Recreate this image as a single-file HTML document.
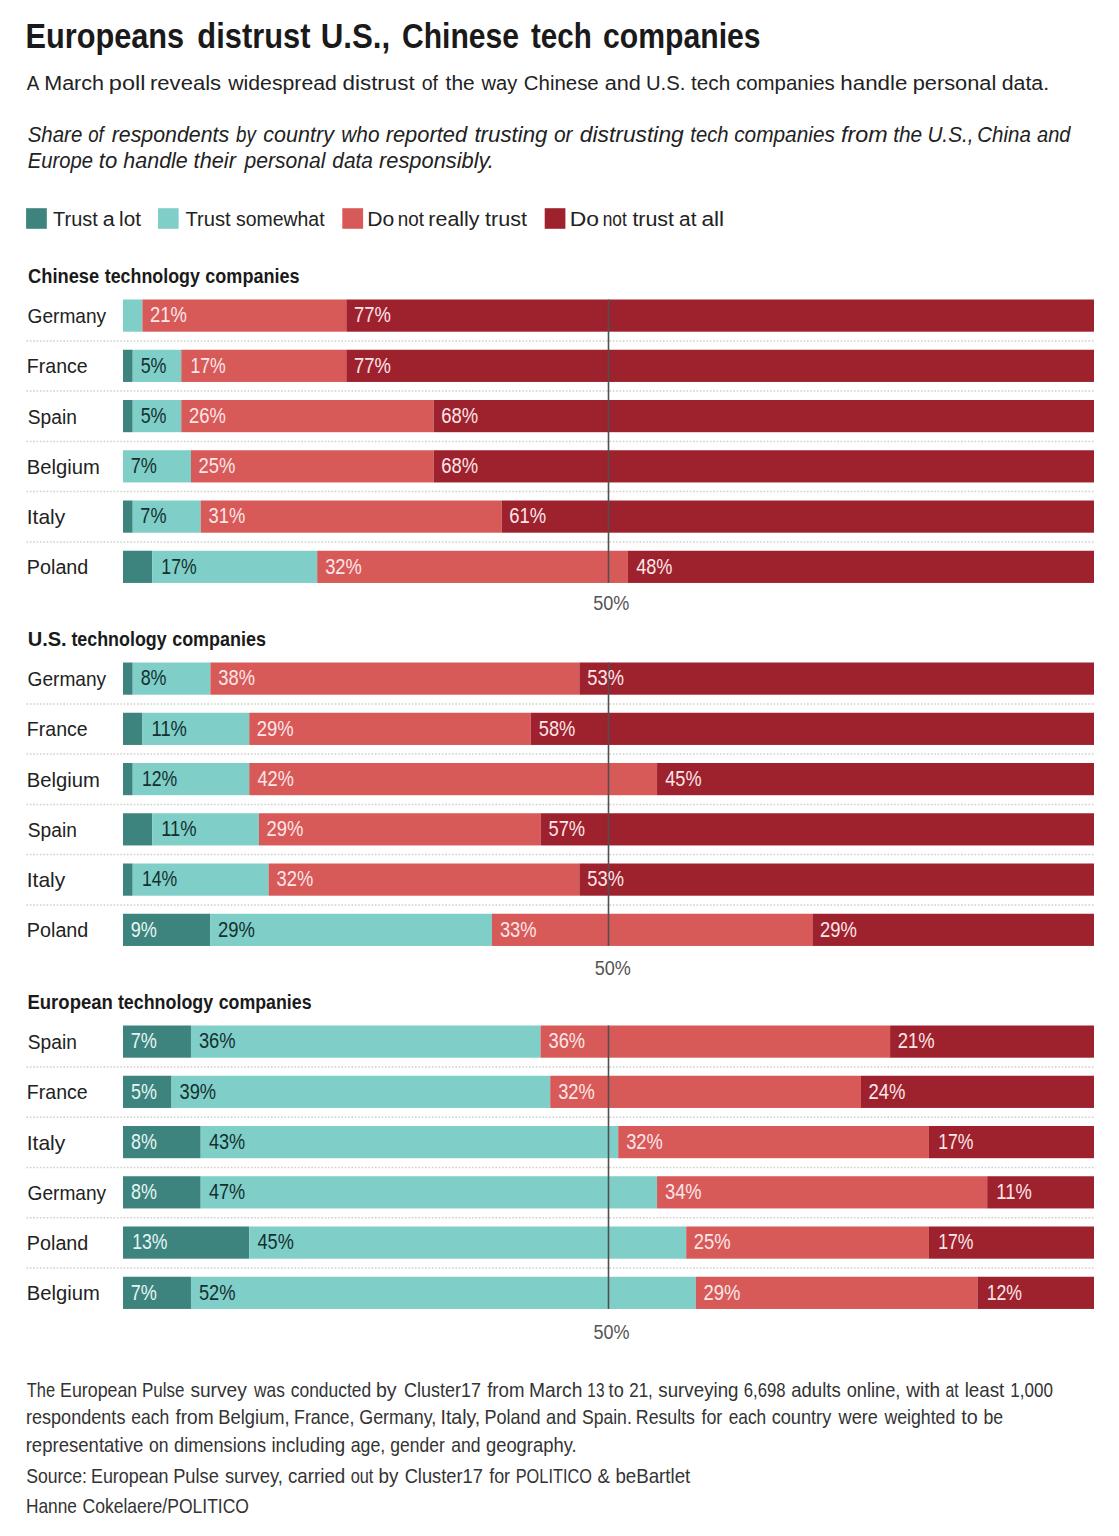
<!DOCTYPE html>
<html><head><meta charset="utf-8"><title>Europeans distrust U.S., Chinese tech companies</title>
<style>html,body{margin:0;padding:0;background:#fff;}body{width:1119px;height:1536px;overflow:hidden;}svg{display:block;font-family:"Liberation Sans",sans-serif;}</style>
</head><body>
<svg width="1119" height="1536" viewBox="0 0 1119 1536">
<rect x="0" y="0" width="1119" height="1536" fill="#ffffff"/>
<line x1="26.5" y1="340.9" x2="1094.0" y2="340.9" stroke="#d0d0d0" stroke-width="1.5" stroke-dasharray="1.6 1.75"/>
<line x1="26.5" y1="391.1" x2="1094.0" y2="391.1" stroke="#d0d0d0" stroke-width="1.5" stroke-dasharray="1.6 1.75"/>
<line x1="26.5" y1="441.4" x2="1094.0" y2="441.4" stroke="#d0d0d0" stroke-width="1.5" stroke-dasharray="1.6 1.75"/>
<line x1="26.5" y1="491.6" x2="1094.0" y2="491.6" stroke="#d0d0d0" stroke-width="1.5" stroke-dasharray="1.6 1.75"/>
<line x1="26.5" y1="541.9" x2="1094.0" y2="541.9" stroke="#d0d0d0" stroke-width="1.5" stroke-dasharray="1.6 1.75"/>
<line x1="26.5" y1="703.9" x2="1094.0" y2="703.9" stroke="#d0d0d0" stroke-width="1.5" stroke-dasharray="1.6 1.75"/>
<line x1="26.5" y1="754.1" x2="1094.0" y2="754.1" stroke="#d0d0d0" stroke-width="1.5" stroke-dasharray="1.6 1.75"/>
<line x1="26.5" y1="804.4" x2="1094.0" y2="804.4" stroke="#d0d0d0" stroke-width="1.5" stroke-dasharray="1.6 1.75"/>
<line x1="26.5" y1="854.6" x2="1094.0" y2="854.6" stroke="#d0d0d0" stroke-width="1.5" stroke-dasharray="1.6 1.75"/>
<line x1="26.5" y1="904.9" x2="1094.0" y2="904.9" stroke="#d0d0d0" stroke-width="1.5" stroke-dasharray="1.6 1.75"/>
<line x1="26.5" y1="1066.9" x2="1094.0" y2="1066.9" stroke="#d0d0d0" stroke-width="1.5" stroke-dasharray="1.6 1.75"/>
<line x1="26.5" y1="1117.2" x2="1094.0" y2="1117.2" stroke="#d0d0d0" stroke-width="1.5" stroke-dasharray="1.6 1.75"/>
<line x1="26.5" y1="1167.4" x2="1094.0" y2="1167.4" stroke="#d0d0d0" stroke-width="1.5" stroke-dasharray="1.6 1.75"/>
<line x1="26.5" y1="1217.7" x2="1094.0" y2="1217.7" stroke="#d0d0d0" stroke-width="1.5" stroke-dasharray="1.6 1.75"/>
<line x1="26.5" y1="1267.9" x2="1094.0" y2="1267.9" stroke="#d0d0d0" stroke-width="1.5" stroke-dasharray="1.6 1.75"/>
<rect x="26.10" y="208.20" width="20.70" height="20.60" fill="#3d837e"/>
<rect x="158.00" y="208.20" width="20.60" height="20.60" fill="#7fcec8"/>
<rect x="342.30" y="208.20" width="20.80" height="20.60" fill="#d75a58"/>
<rect x="544.70" y="208.20" width="20.70" height="20.60" fill="#9e222e"/>
<rect x="123.00" y="299.50" width="19.42" height="32.20" fill="#7fcec8"/>
<rect x="142.42" y="299.50" width="203.91" height="32.20" fill="#d75a58"/>
<rect x="346.33" y="299.50" width="747.67" height="32.20" fill="#9e222e"/>
<rect x="123.00" y="349.75" width="9.71" height="32.20" fill="#3d837e"/>
<rect x="132.71" y="349.75" width="48.55" height="32.20" fill="#7fcec8"/>
<rect x="181.26" y="349.75" width="165.07" height="32.20" fill="#d75a58"/>
<rect x="346.33" y="349.75" width="747.67" height="32.20" fill="#9e222e"/>
<rect x="123.00" y="400.00" width="9.71" height="32.20" fill="#3d837e"/>
<rect x="132.71" y="400.00" width="48.55" height="32.20" fill="#7fcec8"/>
<rect x="181.26" y="400.00" width="252.46" height="32.20" fill="#d75a58"/>
<rect x="433.72" y="400.00" width="660.28" height="32.20" fill="#9e222e"/>
<rect x="123.00" y="450.25" width="67.97" height="32.20" fill="#7fcec8"/>
<rect x="190.97" y="450.25" width="242.75" height="32.20" fill="#d75a58"/>
<rect x="433.72" y="450.25" width="660.28" height="32.20" fill="#9e222e"/>
<rect x="123.00" y="500.50" width="9.71" height="32.20" fill="#3d837e"/>
<rect x="132.71" y="500.50" width="67.97" height="32.20" fill="#7fcec8"/>
<rect x="200.68" y="500.50" width="301.01" height="32.20" fill="#d75a58"/>
<rect x="501.69" y="500.50" width="592.31" height="32.20" fill="#9e222e"/>
<rect x="123.00" y="550.75" width="29.13" height="32.20" fill="#3d837e"/>
<rect x="152.13" y="550.75" width="165.07" height="32.20" fill="#7fcec8"/>
<rect x="317.20" y="550.75" width="310.72" height="32.20" fill="#d75a58"/>
<rect x="627.92" y="550.75" width="466.08" height="32.20" fill="#9e222e"/>
<rect x="607.70" y="299.50" width="1.60" height="283.45" fill="#505050"/>
<rect x="123.00" y="662.50" width="9.71" height="32.20" fill="#3d837e"/>
<rect x="132.71" y="662.50" width="77.68" height="32.20" fill="#7fcec8"/>
<rect x="210.39" y="662.50" width="368.98" height="32.20" fill="#d75a58"/>
<rect x="579.37" y="662.50" width="514.63" height="32.20" fill="#9e222e"/>
<rect x="123.00" y="712.75" width="19.42" height="32.20" fill="#3d837e"/>
<rect x="142.42" y="712.75" width="106.81" height="32.20" fill="#7fcec8"/>
<rect x="249.23" y="712.75" width="281.59" height="32.20" fill="#d75a58"/>
<rect x="530.82" y="712.75" width="563.18" height="32.20" fill="#9e222e"/>
<rect x="123.00" y="763.00" width="9.71" height="32.20" fill="#3d837e"/>
<rect x="132.71" y="763.00" width="116.52" height="32.20" fill="#7fcec8"/>
<rect x="249.23" y="763.00" width="407.82" height="32.20" fill="#d75a58"/>
<rect x="657.05" y="763.00" width="436.95" height="32.20" fill="#9e222e"/>
<rect x="123.00" y="813.25" width="29.13" height="32.20" fill="#3d837e"/>
<rect x="152.13" y="813.25" width="106.81" height="32.20" fill="#7fcec8"/>
<rect x="258.94" y="813.25" width="281.59" height="32.20" fill="#d75a58"/>
<rect x="540.53" y="813.25" width="553.47" height="32.20" fill="#9e222e"/>
<rect x="123.00" y="863.50" width="9.71" height="32.20" fill="#3d837e"/>
<rect x="132.71" y="863.50" width="135.94" height="32.20" fill="#7fcec8"/>
<rect x="268.65" y="863.50" width="310.72" height="32.20" fill="#d75a58"/>
<rect x="579.37" y="863.50" width="514.63" height="32.20" fill="#9e222e"/>
<rect x="123.00" y="913.75" width="87.39" height="32.20" fill="#3d837e"/>
<rect x="210.39" y="913.75" width="281.59" height="32.20" fill="#7fcec8"/>
<rect x="491.98" y="913.75" width="320.43" height="32.20" fill="#d75a58"/>
<rect x="812.41" y="913.75" width="281.59" height="32.20" fill="#9e222e"/>
<rect x="607.70" y="662.50" width="1.60" height="283.45" fill="#505050"/>
<rect x="123.00" y="1025.50" width="67.97" height="32.20" fill="#3d837e"/>
<rect x="190.97" y="1025.50" width="349.56" height="32.20" fill="#7fcec8"/>
<rect x="540.53" y="1025.50" width="349.56" height="32.20" fill="#d75a58"/>
<rect x="890.09" y="1025.50" width="203.91" height="32.20" fill="#9e222e"/>
<rect x="123.00" y="1075.75" width="48.55" height="32.20" fill="#3d837e"/>
<rect x="171.55" y="1075.75" width="378.69" height="32.20" fill="#7fcec8"/>
<rect x="550.24" y="1075.75" width="310.72" height="32.20" fill="#d75a58"/>
<rect x="860.96" y="1075.75" width="233.04" height="32.20" fill="#9e222e"/>
<rect x="123.00" y="1126.00" width="77.68" height="32.20" fill="#3d837e"/>
<rect x="200.68" y="1126.00" width="417.53" height="32.20" fill="#7fcec8"/>
<rect x="618.21" y="1126.00" width="310.72" height="32.20" fill="#d75a58"/>
<rect x="928.93" y="1126.00" width="165.07" height="32.20" fill="#9e222e"/>
<rect x="123.00" y="1176.25" width="77.68" height="32.20" fill="#3d837e"/>
<rect x="200.68" y="1176.25" width="456.37" height="32.20" fill="#7fcec8"/>
<rect x="657.05" y="1176.25" width="330.14" height="32.20" fill="#d75a58"/>
<rect x="987.19" y="1176.25" width="106.81" height="32.20" fill="#9e222e"/>
<rect x="123.00" y="1226.50" width="126.23" height="32.20" fill="#3d837e"/>
<rect x="249.23" y="1226.50" width="436.95" height="32.20" fill="#7fcec8"/>
<rect x="686.18" y="1226.50" width="242.75" height="32.20" fill="#d75a58"/>
<rect x="928.93" y="1226.50" width="165.07" height="32.20" fill="#9e222e"/>
<rect x="123.00" y="1276.75" width="67.97" height="32.20" fill="#3d837e"/>
<rect x="190.97" y="1276.75" width="504.92" height="32.20" fill="#7fcec8"/>
<rect x="695.89" y="1276.75" width="281.59" height="32.20" fill="#d75a58"/>
<rect x="977.48" y="1276.75" width="116.52" height="32.20" fill="#9e222e"/>
<rect x="607.70" y="1025.50" width="1.60" height="283.45" fill="#505050"/>
<text transform="translate(25.58 47.90) scale(0.8621 1)" font-size="35.61" fill="#1a1a1a" font-weight="bold">Europeans</text>
<text transform="translate(197.34 47.90) scale(0.8662 1)" font-size="35.61" fill="#1a1a1a" font-weight="bold">distrust</text>
<text transform="translate(320.73 47.90) scale(0.8782 1)" font-size="35.61" fill="#1a1a1a" font-weight="bold">U.S.,</text>
<text transform="translate(401.96 47.90) scale(0.8460 1)" font-size="35.61" fill="#1a1a1a" font-weight="bold">Chinese</text>
<text transform="translate(530.90 47.90) scale(0.8308 1)" font-size="35.61" fill="#1a1a1a" font-weight="bold">tech</text>
<text transform="translate(602.96 47.90) scale(0.8475 1)" font-size="35.61" fill="#1a1a1a" font-weight="bold">companies</text>
<text transform="translate(26.80 89.50) scale(0.9030 1)" font-size="20.79" fill="#222">A</text>
<text transform="translate(44.22 89.50) scale(1.0357 1)" font-size="20.79" fill="#222">March</text>
<text transform="translate(108.83 89.50) scale(1.1324 1)" font-size="20.79" fill="#222">poll</text>
<text transform="translate(150.02 89.50) scale(1.0609 1)" font-size="20.79" fill="#222">reveals</text>
<text transform="translate(228.23 89.50) scale(1.0224 1)" font-size="20.79" fill="#222">widespread</text>
<text transform="translate(342.50 89.50) scale(1.0783 1)" font-size="20.79" fill="#222">distrust</text>
<text transform="translate(421.69 89.50) scale(0.9440 1)" font-size="20.79" fill="#222">of</text>
<text transform="translate(445.60 89.50) scale(1.0059 1)" font-size="20.79" fill="#222">the</text>
<text transform="translate(481.61 89.50) scale(0.9659 1)" font-size="20.79" fill="#222">way</text>
<text transform="translate(523.84 89.50) scale(0.9822 1)" font-size="20.79" fill="#222">Chinese</text>
<text transform="translate(604.72 89.50) scale(1.0443 1)" font-size="20.79" fill="#222">and</text>
<text transform="translate(645.93 89.50) scale(0.9750 1)" font-size="20.79" fill="#222">U.S.</text>
<text transform="translate(691.00 89.50) scale(0.9999 1)" font-size="20.79" fill="#222">tech</text>
<text transform="translate(735.96 89.50) scale(0.9839 1)" font-size="20.79" fill="#222">companies</text>
<text transform="translate(840.30 89.50) scale(1.0754 1)" font-size="20.79" fill="#222">handle</text>
<text transform="translate(912.64 89.50) scale(1.0500 1)" font-size="20.79" fill="#222">personal</text>
<text transform="translate(1001.73 89.50) scale(1.0251 1)" font-size="20.79" fill="#222">data.</text>
<text transform="translate(27.68 141.80) scale(0.9647 1)" font-size="21.22" fill="#222" font-style="italic">Share</text>
<text transform="translate(88.22 141.80) scale(0.8788 1)" font-size="21.22" fill="#222" font-style="italic">of</text>
<text transform="translate(111.67 141.80) scale(1.0074 1)" font-size="21.22" fill="#222" font-style="italic">respondents</text>
<text transform="translate(236.00 141.80) scale(0.8845 1)" font-size="21.22" fill="#222" font-style="italic">by</text>
<text transform="translate(263.33 141.80) scale(1.0148 1)" font-size="21.22" fill="#222" font-style="italic">country</text>
<text transform="translate(341.32 141.80) scale(0.9810 1)" font-size="21.22" fill="#222" font-style="italic">who</text>
<text transform="translate(385.66 141.80) scale(1.0326 1)" font-size="21.22" fill="#222" font-style="italic">reported</text>
<text transform="translate(474.40 141.80) scale(1.0497 1)" font-size="21.22" fill="#222" font-style="italic">trusting</text>
<text transform="translate(553.94 141.80) scale(0.9895 1)" font-size="21.22" fill="#222" font-style="italic">or</text>
<text transform="translate(579.79 141.80) scale(1.0760 1)" font-size="21.22" fill="#222" font-style="italic">distrusting</text>
<text transform="translate(690.37 141.80) scale(0.9536 1)" font-size="21.22" fill="#222" font-style="italic">tech</text>
<text transform="translate(734.15 141.80) scale(0.9829 1)" font-size="21.22" fill="#222" font-style="italic">companies</text>
<text transform="translate(840.97 141.80) scale(1.0996 1)" font-size="21.22" fill="#222" font-style="italic">from</text>
<text transform="translate(893.15 141.80) scale(0.9854 1)" font-size="21.22" fill="#222" font-style="italic">the</text>
<text transform="translate(927.40 141.80) scale(0.9772 1)" font-size="21.22" fill="#222" font-style="italic">U.S.,</text>
<text transform="translate(977.34 141.80) scale(0.9643 1)" font-size="21.22" fill="#222" font-style="italic">China</text>
<text transform="translate(1036.99 141.80) scale(0.9450 1)" font-size="21.22" fill="#222" font-style="italic">and</text>
<text transform="translate(27.68 167.60) scale(0.9545 1)" font-size="21.22" fill="#222" font-style="italic">Europe</text>
<text transform="translate(98.81 167.60) scale(1.0418 1)" font-size="21.22" fill="#222" font-style="italic">to</text>
<text transform="translate(123.36 167.60) scale(1.0116 1)" font-size="21.22" fill="#222" font-style="italic">handle</text>
<text transform="translate(193.62 167.60) scale(1.0238 1)" font-size="21.22" fill="#222" font-style="italic">their</text>
<text transform="translate(244.46 167.60) scale(0.9944 1)" font-size="21.22" fill="#222" font-style="italic">personal</text>
<text transform="translate(332.35 167.60) scale(0.9822 1)" font-size="21.22" fill="#222" font-style="italic">data</text>
<text transform="translate(379.06 167.60) scale(1.0290 1)" font-size="21.22" fill="#222" font-style="italic">responsibly.</text>
<text transform="translate(53.09 225.70) scale(1.0011 1)" font-size="19.91" fill="#222">Trust</text>
<text transform="translate(102.73 225.70) scale(1.0799 1)" font-size="19.91" fill="#222">a</text>
<text transform="translate(119.11 225.70) scale(1.0375 1)" font-size="19.91" fill="#222">lot</text>
<text transform="translate(185.38 225.70) scale(1.0146 1)" font-size="19.91" fill="#222">Trust</text>
<text transform="translate(236.00 225.70) scale(0.9767 1)" font-size="19.91" fill="#222">somewhat</text>
<text transform="translate(367.25 225.70) scale(1.0620 1)" font-size="19.91" fill="#222">Do</text>
<text transform="translate(397.82 225.70) scale(0.9479 1)" font-size="19.91" fill="#222">not</text>
<text transform="translate(428.36 225.70) scale(1.0752 1)" font-size="19.91" fill="#222">really</text>
<text transform="translate(485.10 225.70) scale(1.0826 1)" font-size="19.91" fill="#222">trust</text>
<text transform="translate(569.81 225.70) scale(1.1500 1)" font-size="19.91" fill="#222">Do</text>
<text transform="translate(602.72 225.70) scale(0.8687 1)" font-size="19.91" fill="#222">not</text>
<text transform="translate(632.40 225.70) scale(1.0755 1)" font-size="19.91" fill="#222">trust</text>
<text transform="translate(679.05 225.70) scale(1.0480 1)" font-size="19.91" fill="#222">at</text>
<text transform="translate(701.39 225.70) scale(1.1397 1)" font-size="19.91" fill="#222">all</text>
<text transform="translate(28.03 283.00) scale(0.9333 1)" font-size="19.62" fill="#1a1a1a" font-weight="bold">Chinese</text>
<text transform="translate(104.70 283.00) scale(0.9096 1)" font-size="19.62" fill="#1a1a1a" font-weight="bold">technology</text>
<text transform="translate(205.34 283.00) scale(0.9189 1)" font-size="19.62" fill="#1a1a1a" font-weight="bold">companies</text>
<text transform="translate(27.50 323.20) scale(0.9207 1)" font-size="20.79" fill="#222">Germany</text>
<text transform="translate(150.06 322.40) scale(0.8691 1)" font-size="21.22" fill="#fde6e8">21%</text>
<text transform="translate(353.97 322.40) scale(0.8691 1)" font-size="21.22" fill="#fde6e8">77%</text>
<text transform="translate(26.87 373.45) scale(0.9402 1)" font-size="20.79" fill="#222">France</text>
<text transform="translate(140.65 372.65) scale(0.8442 1)" font-size="21.22" fill="#14302f">5%</text>
<text transform="translate(190.46 372.65) scale(0.8318 1)" font-size="21.22" fill="#fde6e8">17%</text>
<text transform="translate(353.97 372.65) scale(0.8691 1)" font-size="21.22" fill="#fde6e8">77%</text>
<text transform="translate(27.80 423.70) scale(0.9232 1)" font-size="20.79" fill="#222">Spain</text>
<text transform="translate(140.65 422.90) scale(0.8442 1)" font-size="21.22" fill="#14302f">5%</text>
<text transform="translate(188.90 422.90) scale(0.8691 1)" font-size="21.22" fill="#fde6e8">26%</text>
<text transform="translate(441.36 422.90) scale(0.8691 1)" font-size="21.22" fill="#fde6e8">68%</text>
<text transform="translate(26.82 473.95) scale(0.9738 1)" font-size="20.79" fill="#222">Belgium</text>
<text transform="translate(130.65 473.15) scale(0.8539 1)" font-size="21.22" fill="#14302f">7%</text>
<text transform="translate(198.61 473.15) scale(0.8691 1)" font-size="21.22" fill="#fde6e8">25%</text>
<text transform="translate(441.36 473.15) scale(0.8691 1)" font-size="21.22" fill="#fde6e8">68%</text>
<text transform="translate(26.76 524.20) scale(1.0111 1)" font-size="20.79" fill="#222">Italy</text>
<text transform="translate(140.36 523.40) scale(0.8539 1)" font-size="21.22" fill="#14302f">7%</text>
<text transform="translate(208.61 523.40) scale(0.8621 1)" font-size="21.22" fill="#fde6e8">31%</text>
<text transform="translate(509.33 523.40) scale(0.8691 1)" font-size="21.22" fill="#fde6e8">61%</text>
<text transform="translate(26.86 574.45) scale(0.9495 1)" font-size="20.79" fill="#222">Poland</text>
<text transform="translate(161.33 573.65) scale(0.8318 1)" font-size="21.22" fill="#14302f">17%</text>
<text transform="translate(325.13 573.65) scale(0.8621 1)" font-size="21.22" fill="#fde6e8">32%</text>
<text transform="translate(636.14 573.65) scale(0.8552 1)" font-size="21.22" fill="#fde6e8">48%</text>
<text transform="translate(593.23 609.90) scale(0.8642 1)" font-size="20.93" fill="#555">50%</text>
<text transform="translate(27.66 646.00) scale(1.0230 1)" font-size="19.62" fill="#1a1a1a" font-weight="bold">U.S.</text>
<text transform="translate(71.40 646.00) scale(0.9106 1)" font-size="19.62" fill="#1a1a1a" font-weight="bold">technology</text>
<text transform="translate(172.14 646.00) scale(0.9159 1)" font-size="19.62" fill="#1a1a1a" font-weight="bold">companies</text>
<text transform="translate(27.50 686.20) scale(0.9207 1)" font-size="20.79" fill="#222">Germany</text>
<text transform="translate(140.65 685.40) scale(0.8442 1)" font-size="21.22" fill="#14302f">8%</text>
<text transform="translate(218.32 685.40) scale(0.8621 1)" font-size="21.22" fill="#fde6e8">38%</text>
<text transform="translate(587.30 685.40) scale(0.8621 1)" font-size="21.22" fill="#fde6e8">53%</text>
<text transform="translate(26.87 736.45) scale(0.9402 1)" font-size="20.79" fill="#222">France</text>
<text transform="translate(151.57 735.65) scale(0.8654 1)" font-size="21.22" fill="#14302f">11%</text>
<text transform="translate(256.87 735.65) scale(0.8691 1)" font-size="21.22" fill="#fde6e8">29%</text>
<text transform="translate(538.75 735.65) scale(0.8621 1)" font-size="21.22" fill="#fde6e8">58%</text>
<text transform="translate(26.82 786.70) scale(0.9738 1)" font-size="20.79" fill="#222">Belgium</text>
<text transform="translate(141.91 785.90) scale(0.8318 1)" font-size="21.22" fill="#14302f">12%</text>
<text transform="translate(257.45 785.90) scale(0.8552 1)" font-size="21.22" fill="#fde6e8">42%</text>
<text transform="translate(665.27 785.90) scale(0.8552 1)" font-size="21.22" fill="#fde6e8">45%</text>
<text transform="translate(27.80 836.95) scale(0.9232 1)" font-size="20.79" fill="#222">Spain</text>
<text transform="translate(161.28 836.15) scale(0.8654 1)" font-size="21.22" fill="#14302f">11%</text>
<text transform="translate(266.58 836.15) scale(0.8691 1)" font-size="21.22" fill="#fde6e8">29%</text>
<text transform="translate(548.46 836.15) scale(0.8621 1)" font-size="21.22" fill="#fde6e8">57%</text>
<text transform="translate(26.76 887.20) scale(1.0111 1)" font-size="20.79" fill="#222">Italy</text>
<text transform="translate(141.91 886.40) scale(0.8318 1)" font-size="21.22" fill="#14302f">14%</text>
<text transform="translate(276.58 886.40) scale(0.8621 1)" font-size="21.22" fill="#fde6e8">32%</text>
<text transform="translate(587.30 886.40) scale(0.8621 1)" font-size="21.22" fill="#fde6e8">53%</text>
<text transform="translate(26.86 937.45) scale(0.9495 1)" font-size="20.79" fill="#222">Poland</text>
<text transform="translate(130.65 936.65) scale(0.8539 1)" font-size="21.22" fill="#e6f7f5">9%</text>
<text transform="translate(218.03 936.65) scale(0.8691 1)" font-size="21.22" fill="#14302f">29%</text>
<text transform="translate(499.91 936.65) scale(0.8621 1)" font-size="21.22" fill="#fde6e8">33%</text>
<text transform="translate(820.05 936.65) scale(0.8691 1)" font-size="21.22" fill="#fde6e8">29%</text>
<text transform="translate(594.73 974.60) scale(0.8642 1)" font-size="20.93" fill="#555">50%</text>
<text transform="translate(27.44 1009.00) scale(0.9444 1)" font-size="19.62" fill="#1a1a1a" font-weight="bold">European</text>
<text transform="translate(117.90 1009.00) scale(0.9106 1)" font-size="19.62" fill="#1a1a1a" font-weight="bold">technology</text>
<text transform="translate(218.64 1009.00) scale(0.9070 1)" font-size="19.62" fill="#1a1a1a" font-weight="bold">companies</text>
<text transform="translate(27.80 1049.20) scale(0.9232 1)" font-size="20.79" fill="#222">Spain</text>
<text transform="translate(130.65 1048.40) scale(0.8539 1)" font-size="21.22" fill="#e6f7f5">7%</text>
<text transform="translate(198.90 1048.40) scale(0.8621 1)" font-size="21.22" fill="#14302f">36%</text>
<text transform="translate(548.46 1048.40) scale(0.8621 1)" font-size="21.22" fill="#fde6e8">36%</text>
<text transform="translate(897.73 1048.40) scale(0.8691 1)" font-size="21.22" fill="#fde6e8">21%</text>
<text transform="translate(26.87 1099.45) scale(0.9402 1)" font-size="20.79" fill="#222">France</text>
<text transform="translate(130.94 1098.65) scale(0.8442 1)" font-size="21.22" fill="#e6f7f5">5%</text>
<text transform="translate(179.48 1098.65) scale(0.8621 1)" font-size="21.22" fill="#14302f">39%</text>
<text transform="translate(558.17 1098.65) scale(0.8621 1)" font-size="21.22" fill="#fde6e8">32%</text>
<text transform="translate(868.60 1098.65) scale(0.8691 1)" font-size="21.22" fill="#fde6e8">24%</text>
<text transform="translate(26.76 1149.70) scale(1.0111 1)" font-size="20.79" fill="#222">Italy</text>
<text transform="translate(130.94 1148.90) scale(0.8442 1)" font-size="21.22" fill="#e6f7f5">8%</text>
<text transform="translate(208.90 1148.90) scale(0.8552 1)" font-size="21.22" fill="#14302f">43%</text>
<text transform="translate(626.14 1148.90) scale(0.8621 1)" font-size="21.22" fill="#fde6e8">32%</text>
<text transform="translate(938.13 1148.90) scale(0.8318 1)" font-size="21.22" fill="#fde6e8">17%</text>
<text transform="translate(27.50 1199.95) scale(0.9207 1)" font-size="20.79" fill="#222">Germany</text>
<text transform="translate(130.94 1199.15) scale(0.8442 1)" font-size="21.22" fill="#e6f7f5">8%</text>
<text transform="translate(208.90 1199.15) scale(0.8552 1)" font-size="21.22" fill="#14302f">47%</text>
<text transform="translate(664.98 1199.15) scale(0.8621 1)" font-size="21.22" fill="#fde6e8">34%</text>
<text transform="translate(996.34 1199.15) scale(0.8654 1)" font-size="21.22" fill="#fde6e8">11%</text>
<text transform="translate(26.86 1250.20) scale(0.9495 1)" font-size="20.79" fill="#222">Poland</text>
<text transform="translate(132.20 1249.40) scale(0.8318 1)" font-size="21.22" fill="#e6f7f5">13%</text>
<text transform="translate(257.45 1249.40) scale(0.8552 1)" font-size="21.22" fill="#14302f">45%</text>
<text transform="translate(693.82 1249.40) scale(0.8691 1)" font-size="21.22" fill="#fde6e8">25%</text>
<text transform="translate(938.13 1249.40) scale(0.8318 1)" font-size="21.22" fill="#fde6e8">17%</text>
<text transform="translate(26.82 1300.45) scale(0.9738 1)" font-size="20.79" fill="#222">Belgium</text>
<text transform="translate(130.65 1299.65) scale(0.8539 1)" font-size="21.22" fill="#e6f7f5">7%</text>
<text transform="translate(198.90 1299.65) scale(0.8621 1)" font-size="21.22" fill="#14302f">52%</text>
<text transform="translate(703.53 1299.65) scale(0.8691 1)" font-size="21.22" fill="#fde6e8">29%</text>
<text transform="translate(986.68 1299.65) scale(0.8318 1)" font-size="21.22" fill="#fde6e8">12%</text>
<text transform="translate(593.44 1338.90) scale(0.8618 1)" font-size="20.93" fill="#555">50%</text>
<text transform="translate(26.84 1396.80) scale(0.8435 1)" font-size="19.48" fill="#333">The</text>
<text transform="translate(60.11 1396.80) scale(0.9137 1)" font-size="19.48" fill="#333">European</text>
<text transform="translate(141.98 1396.80) scale(0.8702 1)" font-size="19.48" fill="#333">Pulse</text>
<text transform="translate(190.40 1396.80) scale(0.9829 1)" font-size="19.48" fill="#333">survey</text>
<text transform="translate(254.07 1396.80) scale(0.8880 1)" font-size="19.48" fill="#333">was</text>
<text transform="translate(290.76 1396.80) scale(0.8935 1)" font-size="19.48" fill="#333">conducted</text>
<text transform="translate(375.88 1396.80) scale(1.0040 1)" font-size="19.48" fill="#333">by</text>
<text transform="translate(403.96 1396.80) scale(0.9232 1)" font-size="19.48" fill="#333">Cluster17</text>
<text transform="translate(487.20 1396.80) scale(0.9563 1)" font-size="19.48" fill="#333">from</text>
<text transform="translate(529.00 1396.80) scale(0.9862 1)" font-size="19.48" fill="#333">March</text>
<text transform="translate(587.34 1396.80) scale(0.7889 1)" font-size="19.48" fill="#333">13</text>
<text transform="translate(608.60 1396.80) scale(0.9310 1)" font-size="19.48" fill="#333">to</text>
<text transform="translate(629.20 1396.80) scale(0.8737 1)" font-size="19.48" fill="#333">21,</text>
<text transform="translate(658.31 1396.80) scale(0.9625 1)" font-size="19.48" fill="#333">surveying</text>
<text transform="translate(743.72 1396.80) scale(0.8565 1)" font-size="19.48" fill="#333">6,698</text>
<text transform="translate(791.22 1396.80) scale(0.9533 1)" font-size="19.48" fill="#333">adults</text>
<text transform="translate(846.63 1396.80) scale(0.9360 1)" font-size="19.48" fill="#333">online,</text>
<text transform="translate(906.30 1396.80) scale(0.9776 1)" font-size="19.48" fill="#333">with</text>
<text transform="translate(945.61 1396.80) scale(0.8081 1)" font-size="19.48" fill="#333">at</text>
<text transform="translate(964.63 1396.80) scale(0.9649 1)" font-size="19.48" fill="#333">least</text>
<text transform="translate(1010.34 1396.80) scale(0.8738 1)" font-size="19.48" fill="#333">1,000</text>
<text transform="translate(25.97 1424.20) scale(0.9280 1)" font-size="19.48" fill="#333">respondents</text>
<text transform="translate(131.35 1424.20) scale(0.9002 1)" font-size="19.48" fill="#333">each</text>
<text transform="translate(175.40 1424.20) scale(0.9853 1)" font-size="19.48" fill="#333">from</text>
<text transform="translate(218.37 1424.20) scale(0.9421 1)" font-size="19.48" fill="#333">Belgium,</text>
<text transform="translate(294.01 1424.20) scale(0.9149 1)" font-size="19.48" fill="#333">France,</text>
<text transform="translate(359.26 1424.20) scale(0.9167 1)" font-size="19.48" fill="#333">Germany,</text>
<text transform="translate(440.48 1424.20) scale(1.0021 1)" font-size="19.48" fill="#333">Italy,</text>
<text transform="translate(484.39 1424.20) scale(0.9269 1)" font-size="19.48" fill="#333">Poland</text>
<text transform="translate(546.03 1424.20) scale(0.9381 1)" font-size="19.48" fill="#333">and</text>
<text transform="translate(581.95 1424.20) scale(0.9022 1)" font-size="19.48" fill="#333">Spain.</text>
<text transform="translate(635.81 1424.20) scale(0.9120 1)" font-size="19.48" fill="#333">Results</text>
<text transform="translate(701.50 1424.20) scale(0.9140 1)" font-size="19.48" fill="#333">for</text>
<text transform="translate(728.66 1424.20) scale(0.8879 1)" font-size="19.48" fill="#333">each</text>
<text transform="translate(771.63 1424.20) scale(0.9340 1)" font-size="19.48" fill="#333">country</text>
<text transform="translate(838.58 1424.20) scale(0.9319 1)" font-size="19.48" fill="#333">were</text>
<text transform="translate(884.48 1424.20) scale(0.9082 1)" font-size="19.48" fill="#333">weighted</text>
<text transform="translate(961.30 1424.20) scale(1.0162 1)" font-size="19.48" fill="#333">to</text>
<text transform="translate(983.50 1424.20) scale(0.9055 1)" font-size="19.48" fill="#333">be</text>
<text transform="translate(25.64 1451.80) scale(0.9536 1)" font-size="19.48" fill="#333">representative</text>
<text transform="translate(149.05 1451.80) scale(0.9011 1)" font-size="19.48" fill="#333">on</text>
<text transform="translate(174.03 1451.80) scale(0.9351 1)" font-size="19.48" fill="#333">dimensions</text>
<text transform="translate(271.43 1451.80) scale(0.9600 1)" font-size="19.48" fill="#333">including</text>
<text transform="translate(350.64 1451.80) scale(0.9120 1)" font-size="19.48" fill="#333">age,</text>
<text transform="translate(390.35 1451.80) scale(0.8973 1)" font-size="19.48" fill="#333">gender</text>
<text transform="translate(451.15 1451.80) scale(0.9024 1)" font-size="19.48" fill="#333">and</text>
<text transform="translate(485.92 1451.80) scale(0.9450 1)" font-size="19.48" fill="#333">geography.</text>
<text transform="translate(26.25 1482.60) scale(0.9048 1)" font-size="19.48" fill="#333">Source:</text>
<text transform="translate(91.00 1482.60) scale(0.9186 1)" font-size="19.48" fill="#333">European</text>
<text transform="translate(173.17 1482.60) scale(0.9392 1)" font-size="19.48" fill="#333">Pulse</text>
<text transform="translate(224.91 1482.60) scale(0.9465 1)" font-size="19.48" fill="#333">survey,</text>
<text transform="translate(288.01 1482.60) scale(0.9612 1)" font-size="19.48" fill="#333">carried</text>
<text transform="translate(350.69 1482.60) scale(0.8382 1)" font-size="19.48" fill="#333">out</text>
<text transform="translate(378.62 1482.60) scale(0.9656 1)" font-size="19.48" fill="#333">by</text>
<text transform="translate(404.64 1482.60) scale(0.9392 1)" font-size="19.48" fill="#333">Cluster17</text>
<text transform="translate(489.20 1482.60) scale(0.9184 1)" font-size="19.48" fill="#333">for</text>
<text transform="translate(515.72 1482.60) scale(0.8382 1)" font-size="19.48" fill="#333">POLITICO</text>
<text transform="translate(597.42 1482.60) scale(0.9520 1)" font-size="19.48" fill="#333">&amp;</text>
<text transform="translate(615.43 1482.60) scale(0.9609 1)" font-size="19.48" fill="#333">beBartlet</text>
<text transform="translate(25.95 1513.40) scale(0.8893 1)" font-size="19.48" fill="#333">Hanne</text>
<text transform="translate(82.48 1513.40) scale(0.9005 1)" font-size="19.48" fill="#333">Cokelaere/POLITICO</text>
</svg>
</body></html>
